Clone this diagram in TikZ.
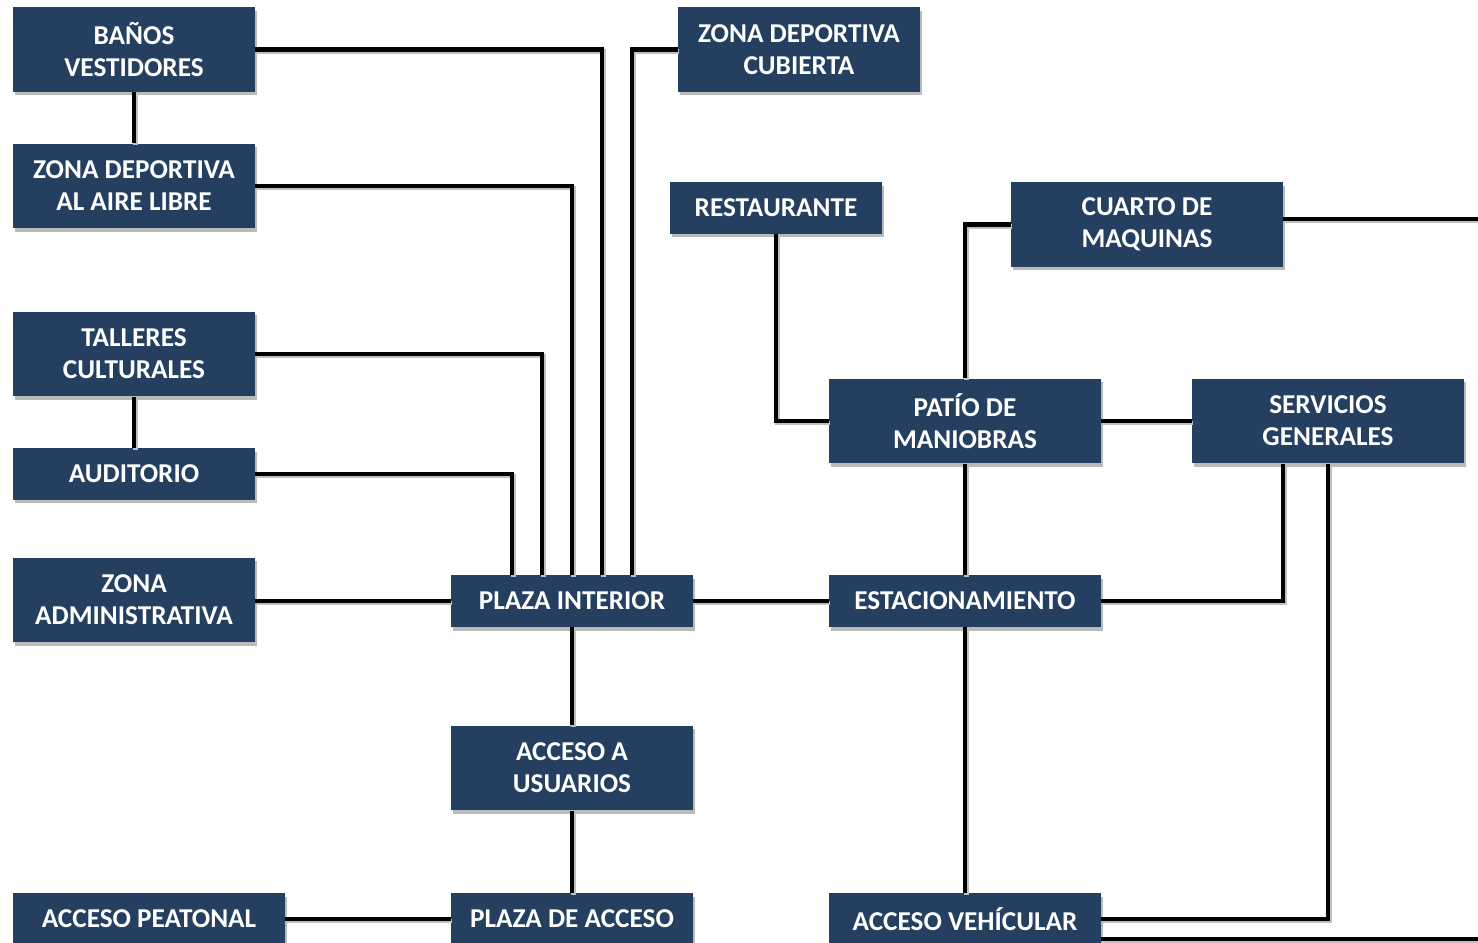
\documentclass[tikz,border=0pt]{standalone}
\usepackage{fontspec}
\setmainfont{Carlito}
\usetikzlibrary{shadows}
\definecolor{navy}{HTML}{243F60}
\tikzset{
  area/.style={fill=navy, text=white, font=\bfseries\fontsize{15.5}{18.2}\selectfont, align=center,
    inner sep=0pt, minimum width=4.84cm, minimum height=1.04cm,
    drop shadow={shadow xshift=0.04cm, shadow yshift=-0.07cm, opacity=0.45, fill=black!60}},
  tall/.style={minimum height=1.7cm},
  wide/.style={minimum width=5.44cm},
  link/.style={line width=2.8pt, preaction={draw=black!25, line width=2.8pt, transform canvas={shift={(0.03cm,-0.04cm)}}}}
}
\begin{document}
\begin{tikzpicture}[x=0.02cm, y=-0.02cm]
  \useasboundingbox (0,0) rectangle (1478,943);
  % left column
  \node[area, tall] (banos) at (134,49.5) {BAÑOS\\VESTIDORES};
  \node[area, tall] (zdaire) at (134,186) {ZONA DEPORTIVA\\AL AIRE LIBRE};
  \node[area, tall] (talleres) at (134,354) {TALLERES\\CULTURALES};
  \node[area] (auditorio) at (134,474) {AUDITORIO};
  \node[area, tall] (admin) at (134,600) {ZONA\\ADMINISTRATIVA};
  \node[area, wide] (peatonal) at (149,919) {ACCESO PEATONAL};
  % middle column
  \node[area] (plazaint) at (572,601) {PLAZA INTERIOR};
  \node[area, tall] (usuarios) at (572,768) {ACCESO A\\USUARIOS};
  \node[area] (plazaacc) at (572,919) {PLAZA DE ACCESO};
  \node[area, tall] (zdcub) at (799,49.5) {ZONA DEPORTIVA\\CUBIERTA};
  \node[area, minimum width=4.24cm] (restaurante) at (776,208) {RESTAURANTE};
  % right column
  \node[area, tall, wide] (cuarto) at (1147,224.5) {CUARTO DE\\MAQUINAS};
  \node[area, tall, wide] (patio) at (965,421) {PATÍO DE\\MANIOBRAS};
  \node[area, tall, wide] (servicios) at (1328,421) {SERVICIOS\\GENERALES};
  \node[area, wide] (estac) at (965,601) {ESTACIONAMIENTO};
  \node[area, wide] (accveh) at (965,919) {ACCESO VEHÍCULAR};
  % free ends at the right edge
  \coordinate (cuartoend) at (1480,219);
  \coordinate (vehend) at (1480,939);
  % connectors
  \draw[link] (banos) -- (zdaire);
  \draw[link] (talleres) -- (auditorio);
  \draw[link] (banos.east) -| ([xshift=0.6cm]plazaint.north);
  \draw[link] (zdaire.east) -| (plazaint.north);
  \draw[link] (talleres.east) -| ([xshift=-0.6cm]plazaint.north);
  \draw[link] (auditorio.east) -| ([xshift=-1.2cm]plazaint.north);
  \draw[link] (zdcub.west) -| ([xshift=1.2cm]plazaint.north);
  \draw[link] (plazaint.west -| admin.east) -- (plazaint.west);
  \draw[link] (plazaint) -- (usuarios);
  \draw[link] (usuarios) -- (plazaacc);
  \draw[link] (peatonal.east) -- (plazaacc.west);
  \draw[link] (plazaint.east) -- (estac.west);
  \draw[link] (restaurante.south) |- (patio.west);
  \draw[link] (cuarto.west) -| (patio.north);
  \draw[link] (cuarto.east |- cuartoend) -- (cuartoend);
  \draw[link] (patio) -- (servicios);
  \draw[link] (patio) -- (estac);
  \draw[link] (estac.east) -| ([xshift=-0.9cm]servicios.south);
  \draw[link] (estac) -- (accveh);
  \draw[link] (servicios.south) |- (accveh.east);
  \draw[link] (accveh.east |- vehend) -- (vehend);
\end{tikzpicture}
\end{document}
